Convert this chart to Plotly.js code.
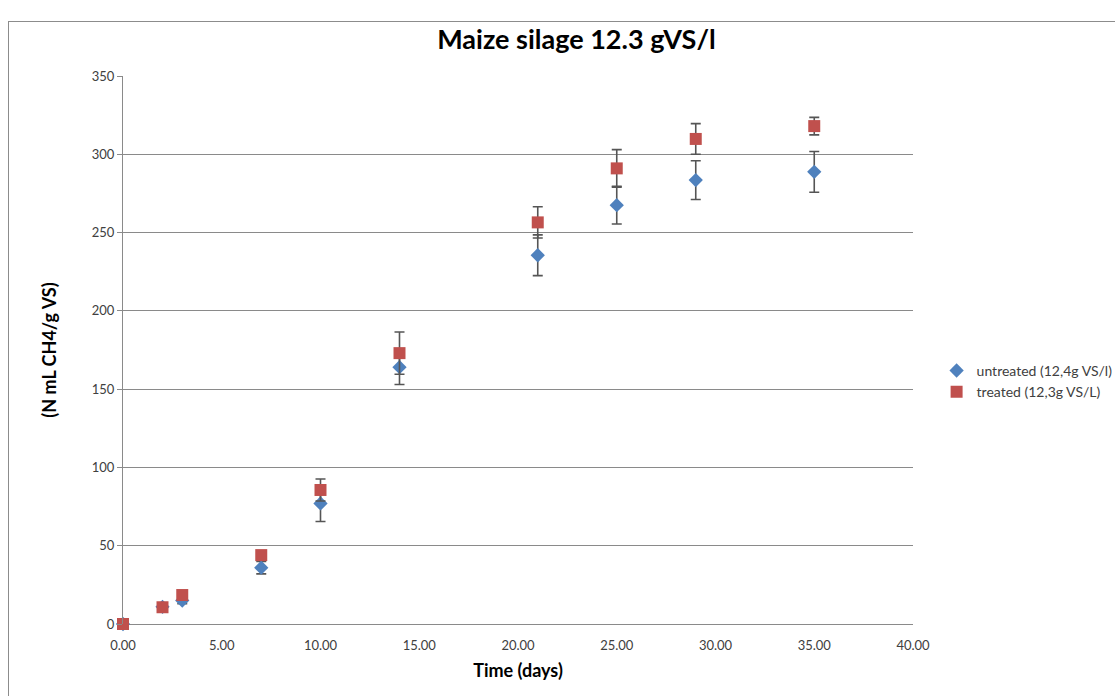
<!DOCTYPE html>
<html>
<head>
<meta charset="utf-8">
<script src="https://cdn.plot.ly/plotly-3.0.1.min.js"></script>
<style>
  html, body { margin: 0; padding: 0; background: #fff; }
  #frame { position: absolute; left: 8px; top: 21px; width: 1200px; height: 700px; border: 1px solid #8c8c8c; box-sizing: border-box; }
  #chart { position: absolute; left: 0; top: 0; width: 1115px; height: 696px; }
</style>
</head>
<body>
<div id="frame"></div>
<div id="chart"></div>
<script>
// Data
const days = [0, 2, 3, 7, 10, 14, 21, 25, 29, 35];
const untreated = [0, 11, 15, 36, 77, 164, 235.5, 267.5, 283.5, 288.8];
const untreatedErr = [0, 1.5, 2, 4, 11.5, 11, 13, 12, 12.4, 13];
const treated = [0, 10.7, 18.5, 44, 85.6, 173, 256.5, 291, 309.8, 318];
const treatedErr = [0, 1, 1.5, 2, 7, 13.5, 10, 12, 9.8, 5.6];
const seriesNames = ['untreated (12,4g VS/l)', 'treated (12,3g VS/L)'];
const xTicks = [0, 5, 10, 15, 20, 25, 30, 35, 40];
const yTicks = [0, 50, 100, 150, 200, 250, 300, 350];

const errStyle = { type: 'data', visible: true, color: '#555555', thickness: 1.6, width: 5 };

const traces = [
  {
    x: days, y: untreated, name: seriesNames[0], type: 'scatter', mode: 'markers', cliponaxis: false,
    marker: { symbol: 'diamond', size: 11, color: '#4F81BD' },
    error_y: Object.assign({ array: untreatedErr }, errStyle)
  },
  {
    x: days, y: treated, name: seriesNames[1], type: 'scatter', mode: 'markers', cliponaxis: false,
    marker: { symbol: 'square', size: 12, color: '#C0504D' },
    error_y: Object.assign({ array: treatedErr }, errStyle)
  }
];

const layout = {
  width: 1115, height: 696,
  paper_bgcolor: 'rgba(0,0,0,0)', plot_bgcolor: 'rgba(0,0,0,0)',
  margin: { l: 123, r: 202, t: 76, b: 72, autoexpand: false },
  font: { family: 'Lato, "Open Sans", sans-serif', size: 12, color: '#404040' },
  title: {
    text: 'Maize silage 12.3 gVS/l',
    font: { family: 'Lato, sans-serif', size: 27, color: '#000', weight: 'bold' },
    x: 0.517, xanchor: 'center', y: 0.943, yanchor: 'middle'
  },
  xaxis: {
    range: [0, 40], tickvals: xTicks, tickformat: '.2f',
    showgrid: false, zeroline: false, showline: false, ticks: '',
    ticklabelstandoff: 12,
    tickfont: { size: 13, color: '#404040' },
    title: { text: 'Time (days)', font: { size: 18, color: '#000', weight: 'bold' }, standoff: 12 },
    fixedrange: true, automargin: false
  },
  yaxis: {
    range: [0, 350], tickvals: yTicks,
    showgrid: true, gridcolor: '#8a8a8a', gridwidth: 1,
    zeroline: true, zerolinecolor: '#8a8a8a', zerolinewidth: 1,
    showline: true, linecolor: '#8a8a8a', linewidth: 1,
    ticks: 'outside', ticklen: 5, tickcolor: '#8a8a8a',
    tickfont: { size: 13, color: '#404040' },
    title: { text: '(N mL CH4/g VS)', font: { size: 18, color: '#000', weight: 'bold' }, standoff: 30 },
    fixedrange: true, automargin: false
  },
  showlegend: true,
  legend: {
    xref: 'container', yref: 'container',
    x: 0.84, xanchor: 'left', y: 0.452, yanchor: 'middle',
    font: { size: 14, color: '#404040' },
    bgcolor: 'rgba(0,0,0,0)', tracegroupgap: 10, itemwidth: 30
  }
};

Plotly.newPlot('chart', traces, layout, { displayModeBar: false, staticPlot: true });
</script>
</body>
</html>
